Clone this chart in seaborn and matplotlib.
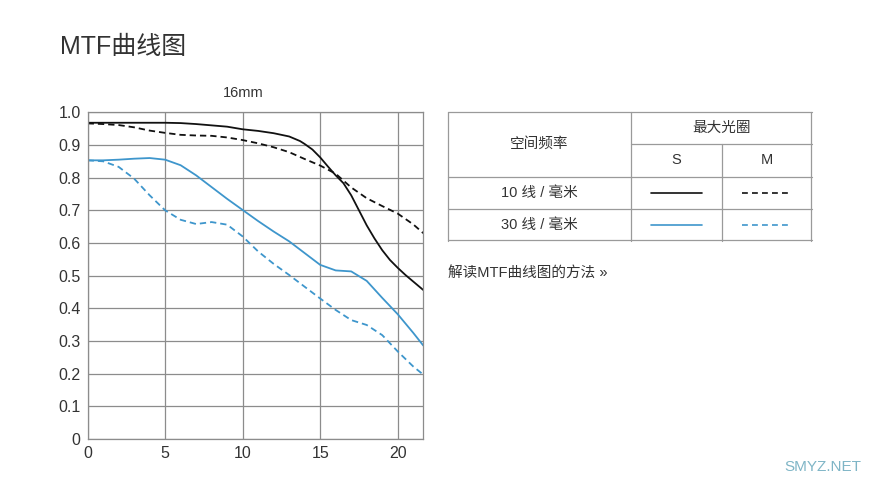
import pandas as pd
import seaborn as sns
import matplotlib.pyplot as plt

# MTF readings for the 16mm setting (spatial frequency in mm from centre)
freq_10s = [0, 2, 4, 5, 6, 7, 8, 9, 10, 11, 12, 13, 13.7, 14, 14.5, 15, 15.5, 16, 16.5, 17,
            17.5, 18, 18.5, 19, 19.5, 20, 20.5, 21, 21.65]
mtf_10s = [0.968, 0.968, 0.968, 0.968, 0.967, 0.964, 0.960, 0.956, 0.948, 0.943, 0.936, 0.926,
           0.912, 0.903, 0.886, 0.862, 0.834, 0.807, 0.783, 0.746, 0.700, 0.654, 0.614, 0.578,
           0.548, 0.524, 0.502, 0.482, 0.456]

freq_10m = [0, 1, 2, 3, 4, 5, 6, 7, 8, 9, 10, 11, 12, 13, 14, 15, 16, 17, 18, 19, 20, 21, 21.65]
mtf_10m = [0.966, 0.964, 0.961, 0.954, 0.944, 0.937, 0.931, 0.929, 0.928, 0.923, 0.915, 0.905,
           0.893, 0.878, 0.857, 0.837, 0.812, 0.770, 0.737, 0.713, 0.690, 0.657, 0.630]

freq_30s = [0, 1, 2, 3, 4, 5, 6, 7, 8, 9, 10, 11, 12, 13, 14, 15, 16, 17, 18, 19, 20, 21, 21.65]
mtf_30s = [0.853, 0.853, 0.855, 0.858, 0.860, 0.855, 0.838, 0.807, 0.771, 0.735, 0.701, 0.667,
           0.635, 0.605, 0.569, 0.533, 0.516, 0.513, 0.484, 0.432, 0.382, 0.325, 0.286]

freq_30m = [0, 1, 2, 3, 4, 5, 6, 7, 8, 9, 10, 11, 12, 13, 14, 15, 16, 17, 18, 19, 20, 21, 21.65]
mtf_30m = [0.853, 0.850, 0.833, 0.797, 0.746, 0.700, 0.671, 0.658, 0.664, 0.656, 0.620, 0.574,
           0.536, 0.502, 0.466, 0.430, 0.395, 0.364, 0.349, 0.318, 0.268, 0.222, 0.197]

series_names = ['10 S', '10 M', '30 S', '30 M']
y_ticks = [0, 0.1, 0.2, 0.3, 0.4, 0.5, 0.6, 0.7, 0.8, 0.9, 1.0]
y_labels = ['0', '0.1', '0.2', '0.3', '0.4', '0.5', '0.6', '0.7', '0.8', '0.9', '1.0']
x_ticks = [0, 5, 10, 15, 20]
row_labels = ['10 线 / 毫米', '30 线 / 毫米']

frames = []
for name, fx, fy in zip(series_names, [freq_10s, freq_10m, freq_30s, freq_30m],
                        [mtf_10s, mtf_10m, mtf_30s, mtf_30m]):
    frames.append(pd.DataFrame({'freq': fx, 'mtf': fy, 'series': name}))
df = pd.concat(frames, ignore_index=True)

black = '#111111'
blue = '#3e96cc'
palette = {'10 S': black, '10 M': black, '30 S': blue, '30 M': blue}
dashes = {'10 S': '', '10 M': (3.5, 2.2), '30 S': '', '30 M': (3.5, 2.2)}

sns.set_style('white')
plt.rcParams['font.family'] = ['Liberation Sans', 'Noto Sans CJK SC']
text_col = '#333333'

fig = plt.figure(figsize=(8.79, 4.92), dpi=100)
ax = fig.add_axes([87.6 / 879, 1 - 439 / 492, (423.3 - 87.6) / 879, (439 - 112.3) / 492])

sns.lineplot(data=df, x='freq', y='mtf', hue='series', style='series', palette=palette,
             dashes=dashes, legend=False, ax=ax, estimator=None, sort=False)
for line in ax.get_lines():
    line.set_linewidth(1.3)

ax.set_xlim(0, 21.65)
ax.set_ylim(0, 1.0)
ax.set_yticks(y_ticks)
ax.set_yticklabels(y_labels)
ax.set_xticks(x_ticks)
ax.set_xlabel('')
ax.set_ylabel('')
ax.tick_params(length=0, labelsize=11.5, colors=text_col, pad=5)
ax.grid(True, color='#8c8c8c', linewidth=0.9)
ax.set_axisbelow(True)
for s in ax.spines.values():
    s.set_color('#8c8c8c')
    s.set_linewidth(0.9)

fig.text(60 / 879, 1 - 47 / 492, 'MTF曲线图', fontsize=18, color=text_col, va='center', ha='left')
fig.text(243 / 879, 1 - 93 / 492, '16mm', fontsize=10.5, color=text_col, va='center', ha='center')

# table legend
tab = fig.add_axes([448 / 879, 1 - 241 / 492, 364 / 879, 129 / 492])
tab.set_xlim(0, 364)
tab.set_ylim(129, 0)
tab.axis('off')
grid_col = '#9a9a9a'
for y0, x0, x1 in [(0.5, 0, 364), (128.5, 0, 364), (65, 0, 364), (97, 0, 364), (32, 183, 364)]:
    tab.plot([x0, x1], [y0, y0], color=grid_col, lw=0.9, clip_on=False)
for x0, y0, y1 in [(0.5, 0, 129), (363.5, 0, 129), (183, 0, 129), (274, 32, 129)]:
    tab.plot([x0, x0], [y0, y1], color=grid_col, lw=0.9, clip_on=False)

tab.text(91.5, 32, '空间频率', ha='center', va='center', fontsize=10.5, color=text_col)
tab.text(273.5, 16, '最大光圈', ha='center', va='center', fontsize=10.5, color=text_col)
tab.text(228.5, 48.5, 'S', ha='center', va='center', fontsize=10.5, color=text_col)
tab.text(319, 48.5, 'M', ha='center', va='center', fontsize=10.5, color=text_col)
for yy, lab, col in zip([81, 113], row_labels, [black, blue]):
    tab.text(91.5, yy, lab, ha='center', va='center', fontsize=10.5, color=text_col)
    tab.plot([203, 254], [yy, yy], color=col, lw=1.2)
    tab.plot([294, 341], [yy, yy], color=col, lw=1.2, dashes=(3.5, 2.5))

fig.text(448 / 879, 1 - 273 / 492, '解读MTF曲线图的方法 »', fontsize=10.5, color=text_col,
         va='center', ha='left')
fig.text(823 / 879, 1 - 467 / 492, 'SMYZ.NET', fontsize=11, color='#5fa3b8', alpha=0.8,
         va='center', ha='center')

fig.savefig('out.png', dpi=100)
